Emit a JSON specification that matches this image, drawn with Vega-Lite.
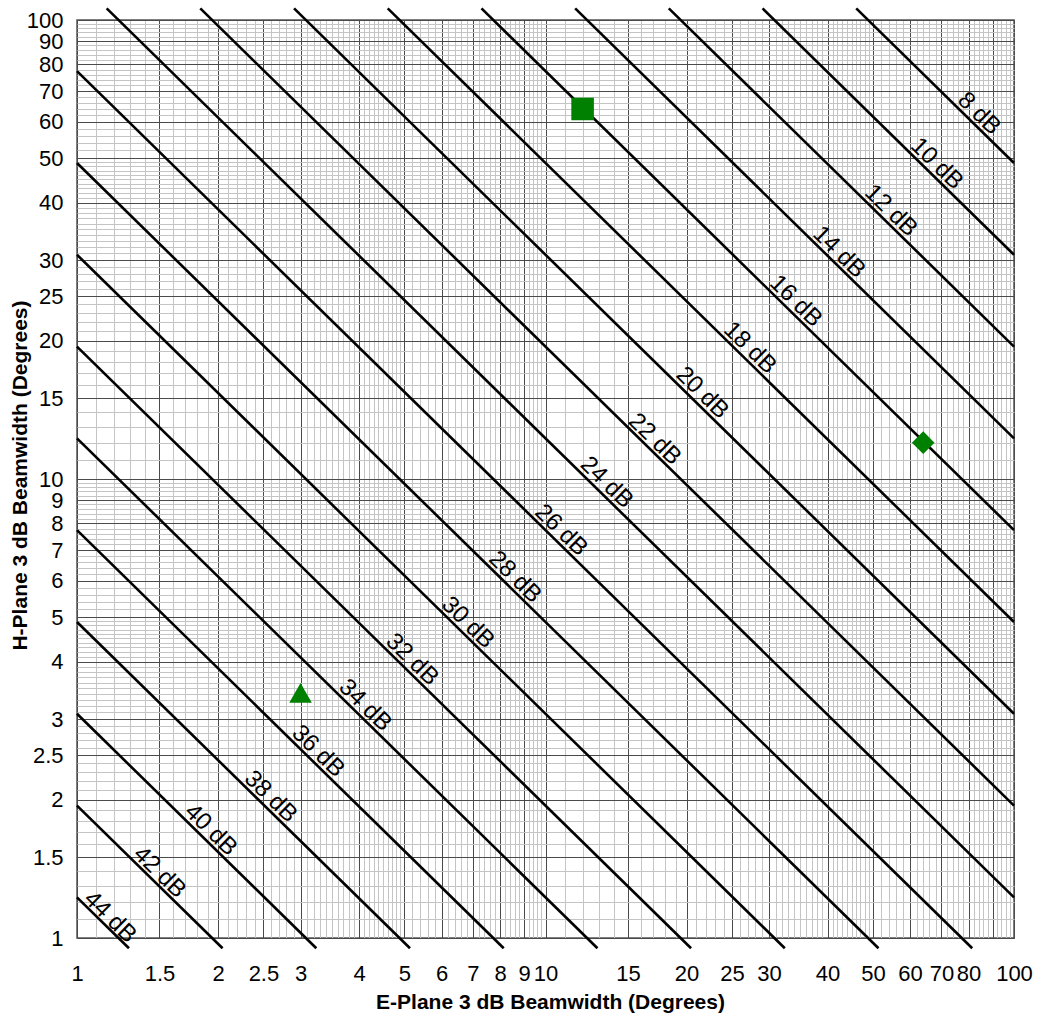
{
  "$schema": "https://vega.github.io/schema/vega-lite/v6.json",
  "width": 937,
  "height": 918,
  "autosize": {"type": "none"},
  "padding": {"left": 77, "top": 20, "right": 27, "bottom": 80},
  "background": "white",
  "config": {
    "font": "Liberation Sans",
    "view": {"stroke": "#555555", "strokeWidth": 1.5}
  },
  "datasets": {
    "lines": [
      {"gain": 8, "e": 46.05, "h": 106}, {"gain": 8, "e": 100, "h": 48.81},
      {"gain": 10, "e": 29.06, "h": 106}, {"gain": 10, "e": 100, "h": 30.8},
      {"gain": 12, "e": 18.33, "h": 106}, {"gain": 12, "e": 100, "h": 19.43},
      {"gain": 14, "e": 11.57, "h": 106}, {"gain": 14, "e": 100, "h": 12.26},
      {"gain": 16, "e": 7.30, "h": 106}, {"gain": 16, "e": 100, "h": 7.737},
      {"gain": 18, "e": 4.605, "h": 106}, {"gain": 18, "e": 100, "h": 4.881},
      {"gain": 20, "e": 2.906, "h": 106}, {"gain": 20, "e": 100, "h": 3.08},
      {"gain": 22, "e": 1.833, "h": 106}, {"gain": 22, "e": 100, "h": 1.943},
      {"gain": 24, "e": 1.157, "h": 106}, {"gain": 24, "e": 100, "h": 1.226},
      {"gain": 26, "e": 1, "h": 77.37}, {"gain": 26, "e": 81.44, "h": 0.95},
      {"gain": 28, "e": 1, "h": 48.81}, {"gain": 28, "e": 51.38, "h": 0.95},
      {"gain": 30, "e": 1, "h": 30.8}, {"gain": 30, "e": 32.42, "h": 0.95},
      {"gain": 32, "e": 1, "h": 19.43}, {"gain": 32, "e": 20.45, "h": 0.95},
      {"gain": 34, "e": 1, "h": 12.26}, {"gain": 34, "e": 12.91, "h": 0.95},
      {"gain": 36, "e": 1, "h": 7.737}, {"gain": 36, "e": 8.144, "h": 0.95},
      {"gain": 38, "e": 1, "h": 4.881}, {"gain": 38, "e": 5.138, "h": 0.95},
      {"gain": 40, "e": 1, "h": 3.08}, {"gain": 40, "e": 3.242, "h": 0.95},
      {"gain": 42, "e": 1, "h": 1.943}, {"gain": 42, "e": 2.045, "h": 0.95},
      {"gain": 44, "e": 1, "h": 1.226}, {"gain": 44, "e": 1.291, "h": 0.95}
    ],
    "labels": [
      {"label": "8 dB", "e": 84.2, "h": 62.5},
      {"label": "10 dB", "e": 68.4, "h": 48.6},
      {"label": "12 dB", "e": 54.6, "h": 38.4},
      {"label": "14 dB", "e": 42.3, "h": 31.2},
      {"label": "16 dB", "e": 34.2, "h": 24.4},
      {"label": "18 dB", "e": 27.3, "h": 19.3},
      {"label": "20 dB", "e": 21.6, "h": 15.4},
      {"label": "22 dB", "e": 17.1, "h": 12.2},
      {"label": "24 dB", "e": 13.5, "h": 9.82},
      {"label": "26 dB", "e": 10.8, "h": 7.73},
      {"label": "28 dB", "e": 8.61, "h": 6.11},
      {"label": "30 dB", "e": 6.83, "h": 4.86},
      {"label": "32 dB", "e": 5.19, "h": 4.04},
      {"label": "34 dB", "e": 4.12, "h": 3.21},
      {"label": "36 dB", "e": 3.27, "h": 2.55},
      {"label": "38 dB", "e": 2.59, "h": 2.03},
      {"label": "40 dB", "e": 1.93, "h": 1.72},
      {"label": "42 dB", "e": 1.50, "h": 1.39},
      {"label": "44 dB", "e": 1.176, "h": 1.11}
    ],
    "markers": [
      {"marker": "square", "e": 12, "h": 64},
      {"marker": "diamond", "e": 64, "h": 12},
      {"marker": "triangle", "e": 3, "h": 3.42}
    ]
  },
  "layer": [
    {
      "data": {"name": "lines"},
      "mark": {"type": "line", "color": "#000000", "strokeWidth": 2.6, "clip": false},
      "encoding": {
        "x": {
          "field": "e", "type": "quantitative",
          "scale": {"type": "log", "domain": [1, 100], "nice": false, "zero": false},
          "axis": {
            "orient": "bottom", "title": null, "labels": false, "ticks": false, "domain": false,
            "grid": true, "gridColor": "#c4c4c4", "gridWidth": 1,
            "values": [1.1,1.2,1.3,1.4,1.6,1.7,1.8,1.9,2.1,2.2,2.3,2.4,2.6,2.7,2.8,2.9,3.1,3.2,3.3,3.4,3.5,3.6,3.7,3.8,3.9,4.1,4.2,4.3,4.4,4.5,4.6,4.7,4.8,4.9,5.2,5.4,5.6,5.8,6.2,6.4,6.6,6.8,7.2,7.4,7.6,7.8,8.2,8.4,8.6,8.8,9.2,9.4,9.6,9.8,11,12,13,14,16,17,18,19,21,22,23,24,26,27,28,29,31,32,33,34,35,36,37,38,39,41,42,43,44,45,46,47,48,49,52,54,56,58,62,64,66,68,72,74,76,78,82,84,86,88,92,94,96,98]
          }
        },
        "y": {
          "field": "h", "type": "quantitative",
          "scale": {"type": "log", "domain": [1, 100], "nice": false, "zero": false},
          "axis": {
            "orient": "left", "title": null, "labels": false, "ticks": false, "domain": false,
            "grid": true, "gridColor": "#c4c4c4", "gridWidth": 1,
            "values": [1.1,1.2,1.3,1.4,1.6,1.7,1.8,1.9,2.1,2.2,2.3,2.4,2.6,2.7,2.8,2.9,3.1,3.2,3.3,3.4,3.5,3.6,3.7,3.8,3.9,4.1,4.2,4.3,4.4,4.5,4.6,4.7,4.8,4.9,5.2,5.4,5.6,5.8,6.2,6.4,6.6,6.8,7.2,7.4,7.6,7.8,8.2,8.4,8.6,8.8,9.2,9.4,9.6,9.8,11,12,13,14,16,17,18,19,21,22,23,24,26,27,28,29,31,32,33,34,35,36,37,38,39,41,42,43,44,45,46,47,48,49,52,54,56,58,62,64,66,68,72,74,76,78,82,84,86,88,92,94,96,98]
          }
        },
        "detail": {"field": "gain", "type": "nominal"}
      }
    },
    {
      "data": {"name": "labels"},
      "mark": {"type": "text", "angle": 44.4, "fontSize": 24, "color": "#000000", "align": "center", "baseline": "middle"},
      "encoding": {
        "x": {
          "field": "e", "type": "quantitative",
          "scale": {"type": "log", "domain": [1, 100], "nice": false, "zero": false},
          "axis": {
            "orient": "bottom",
            "values": [1,1.5,2,2.5,3,4,5,6,7,8,9,10,15,20,25,30,40,50,60,70,80,90,100],
            "labelExpr": "datum.value == 90 ? '' : format(datum.value, '~g')",
            "grid": true, "gridColor": "#4a4a4a", "gridWidth": 1,
            "domain": false, "ticks": false,
            "labelPadding": 25, "labelFontSize": 22, "labelColor": "#000000",
            "labelOverlap": false, "labelFlush": false,
            "title": "E-Plane 3 dB Beamwidth (Degrees)",
            "titleFontSize": 21, "titleFontWeight": "bold", "titleColor": "#000000",
            "titleX": 473, "titleY": 64, "titleBaseline": "middle", "titleAlign": "center"
          }
        },
        "y": {
          "field": "h", "type": "quantitative",
          "scale": {"type": "log", "domain": [1, 100], "nice": false, "zero": false},
          "axis": {
            "orient": "left",
            "values": [1,1.5,2,2.5,3,4,5,6,7,8,9,10,15,20,25,30,40,50,60,70,80,90,100],
            "labelExpr": "format(datum.value, '~g')",
            "grid": true, "gridColor": "#4a4a4a", "gridWidth": 1,
            "domain": false, "ticks": false,
            "labelPadding": 14, "labelFontSize": 22, "labelColor": "#000000",
            "labelOverlap": false, "labelFlush": false,
            "title": "H-Plane 3 dB Beamwidth (Degrees)",
            "titleFontSize": 21, "titleFontWeight": "bold", "titleColor": "#000000",
            "titleAngle": -90, "titleX": -57, "titleY": 455, "titleBaseline": "middle", "titleAlign": "center"
          }
        },
        "text": {"field": "label", "type": "nominal"}
      }
    },
    {
      "data": {"name": "markers"},
      "mark": {"type": "point", "filled": true, "color": "#008000", "opacity": 1, "size": 510},
      "encoding": {
        "x": {"field": "e", "type": "quantitative", "scale": {"type": "log", "domain": [1, 100], "nice": false, "zero": false}, "axis": null},
        "y": {"field": "h", "type": "quantitative", "scale": {"type": "log", "domain": [1, 100], "nice": false, "zero": false}, "axis": null},
        "shape": {
          "field": "marker", "type": "nominal",
          "scale": {"domain": ["square", "diamond", "triangle"], "range": ["square", "diamond", "triangle-up"]},
          "legend": null
        }
      }
    }
  ],
  "resolve": {"axis": {"x": "independent", "y": "independent"}}
}
